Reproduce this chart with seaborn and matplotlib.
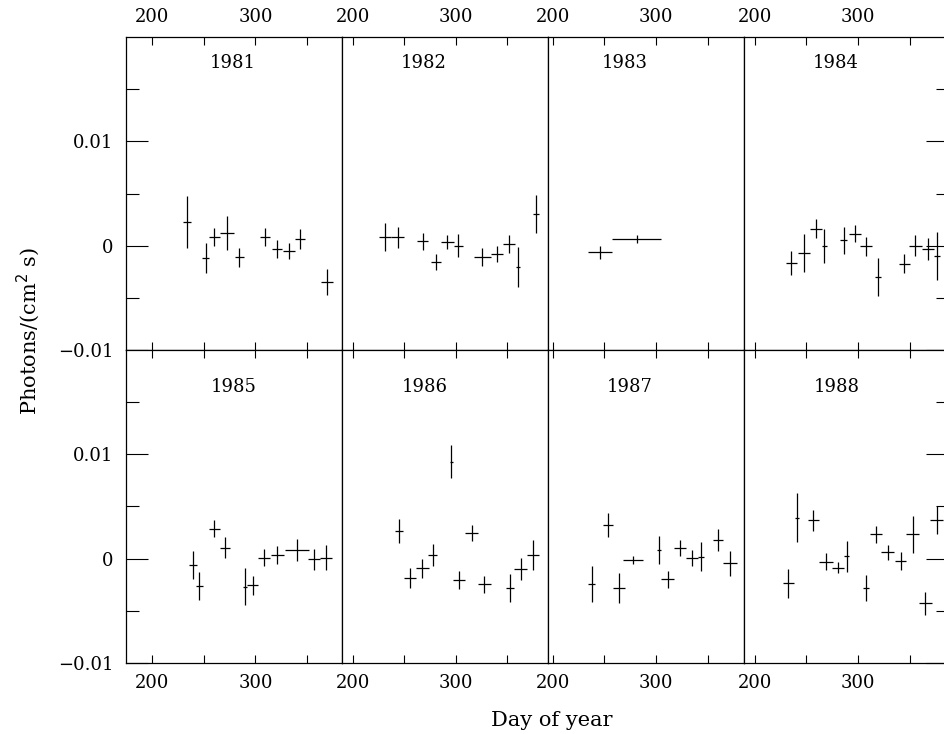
import numpy as np
import pandas as pd
import seaborn as sns
import matplotlib.pyplot as plt
from matplotlib.ticker import FixedLocator, FuncFormatter

years = [1981, 1982, 1983, 1984, 1985, 1986, 1987, 1988]

# each row: (day of year, half width in days, flux, flux error)
pts_1981 = [
    (234.0, 4.0, 0.00223, 0.00250), (251.8, 3.4, -0.00118, 0.00142),
    (260.1, 5.2, 0.00083, 0.00088), (272.2, 6.8, 0.00121, 0.00160),
    (284.4, 4.4, -0.00112, 0.00088), (309.0, 5.0, 0.00083, 0.00088),
    (320.6, 4.8, -0.00032, 0.00085), (332.3, 6.0, -0.00054, 0.00075),
    (343.3, 5.0, 0.00064, 0.00093), (369.2, 5.8, -0.00350, 0.00125),
]
pts_1982 = [
    (231.4, 6.0, 0.00079, 0.00134), (243.7, 6.5, 0.00079, 0.00099),
    (268.0, 5.5, 0.00041, 0.00078), (280.7, 5.0, -0.00156, 0.00077),
    (292.0, 6.3, 0.00032, 0.00067), (302.6, 4.5, 0.00000, 0.00112),
    (326.0, 8.0, -0.00108, 0.00088), (340.0, 6.0, -0.00080, 0.00080),
    (351.9, 6.0, 0.00016, 0.00090), (360.3, 2.0, -0.00204, 0.00196),
    (377.8, 3.0, 0.00303, 0.00179),
]
pts_1983 = [
    (245.7, 11.3, -0.00064, 0.00064), (281.2, 23.8, 0.00067, 0.00040),
]
pts_1984 = [
    (235.5, 5.2, -0.00166, 0.00112), (247.4, 6.0, -0.00070, 0.00180),
    (259.4, 6.0, 0.00163, 0.00089), (267.5, 2.0, -0.00006, 0.00163),
    (286.2, 3.3, 0.00051, 0.00128), (297.5, 5.8, 0.00115, 0.00083),
    (307.8, 5.8, -0.00006, 0.00089), (319.5, 2.8, -0.00300, 0.00179),
    (344.9, 5.0, -0.00172, 0.00091), (355.6, 6.7, 0.00000, 0.00100),
    (367.5, 5.8, -0.00032, 0.00106), (376.6, 3.0, -0.00096, 0.00230),
]
pts_1985 = [
    (239.2, 4.0, -0.00064, 0.00133), (245.6, 3.5, -0.00263, 0.00131),
    (260.1, 5.5, 0.00288, 0.00085), (270.5, 4.5, 0.00105, 0.00099),
    (289.9, 2.0, -0.00268, 0.00179), (297.4, 5.3, -0.00256, 0.00088),
    (308.3, 5.8, 0.00010, 0.00080), (321.3, 6.0, 0.00035, 0.00083),
    (340.0, 11.6, 0.00083, 0.00107), (356.8, 5.6, -0.00007, 0.00104),
    (368.5, 6.0, 0.00010, 0.00120),
]
pts_1986 = [
    (245.2, 3.7, 0.00265, 0.00112), (255.6, 6.0, -0.00182, 0.00096),
    (267.8, 6.0, -0.00093, 0.00088), (277.6, 4.0, 0.00035, 0.00104),
    (296.0, 1.7, 0.00930, 0.00155), (303.5, 6.0, -0.00205, 0.00086),
    (315.5, 6.5, 0.00243, 0.00075), (327.8, 6.2, -0.00246, 0.00080),
    (353.1, 3.8, -0.00278, 0.00133), (363.5, 6.3, -0.00096, 0.00107),
    (374.8, 5.8, 0.00035, 0.00140),
]
pts_1987 = [
    (237.7, 3.3, -0.00246, 0.00173), (253.1, 4.7, 0.00323, 0.00117),
    (263.8, 6.0, -0.00278, 0.00144), (278.0, 9.7, -0.00013, 0.00040),
    (302.7, 2.0, 0.00083, 0.00133), (311.1, 6.3, -0.00198, 0.00080),
    (323.0, 6.0, 0.00105, 0.00077), (334.9, 5.8, 0.00010, 0.00077),
    (343.3, 3.0, 0.00019, 0.00140), (360.0, 5.0, 0.00178, 0.00107),
    (371.3, 6.3, -0.00045, 0.00120),
]
pts_1988 = [
    (232.5, 5.5, -0.00237, 0.00136), (240.7, 1.7, 0.00393, 0.00233),
    (256.7, 5.3, 0.00367, 0.00104), (269.0, 6.7, -0.00029, 0.00080),
    (280.9, 5.7, -0.00086, 0.00056), (289.0, 2.7, 0.00025, 0.00149),
    (307.7, 3.3, -0.00278, 0.00123), (317.1, 5.8, 0.00233, 0.00083),
    (328.7, 6.2, 0.00063, 0.00072), (341.3, 5.5, -0.00023, 0.00083),
    (353.0, 6.2, 0.00233, 0.00180), (365.2, 6.2, -0.00429, 0.00107),
    (376.2, 6.3, 0.00367, 0.00134),
]

all_pts = [pts_1981, pts_1982, pts_1983, pts_1984,
           pts_1985, pts_1986, pts_1987, pts_1988]

frames = []
for yr, pts in zip(years, all_pts):
    d = pd.DataFrame(pts, columns=["day", "dday", "flux", "dflux"])
    d["year"] = yr
    frames.append(d)
df = pd.concat(frames, ignore_index=True)

# x range of each column of panels
col_xlims = [(174.5, 384.0), (189.6, 389.8), (195.5, 384.8), (189.6, 387.1)]
# where the year label sits (axes fraction)
label_x = [0.493, 0.398, 0.391, 0.450, 0.50, 0.40, 0.418, 0.456]
label_y = [0.917, 0.882]


def draw_cross(data, color=None, **kws):
    ax = plt.gca()
    ax.errorbar(data["day"], data["flux"], xerr=data["dday"], yerr=data["dflux"],
                fmt="none", ecolor="black", elinewidth=0.9, capsize=0)


sns.set_theme(style="ticks")
plt.rcParams["font.family"] = ["DejaVu Serif"]
plt.rcParams["axes.linewidth"] = 0.9

g = sns.FacetGrid(df, col="year", col_wrap=4, sharex=False, sharey=True,
                  despine=False, height=3, aspect=0.75)
g.map_dataframe(draw_cross)
g.set_titles("")
fig = g.figure
fig.set_size_inches(9.45, 7.34)

W, H = 945.0, 734.0
col_px = [126, 342, 548, 744, 948]
row_px = [(37, 350), (350, 663)]


def yfmt(v, _):
    if abs(v) < 1e-12:
        return "0"
    return f"{v:g}".replace("-", "\u2212")


for i, ax in enumerate(g.axes.flat):
    r, c = divmod(i, 4)
    x0, x1 = col_px[c], col_px[c + 1]
    top, bot = row_px[r]
    ax.set_position([x0 / W, 1 - bot / H, (x1 - x0) / W, (bot - top) / H])
    ax.set_xlim(*col_xlims[c])
    ax.set_ylim(-0.01, 0.02)
    ax.set_xlabel("")
    ax.set_ylabel("")
    for sp in ax.spines.values():
        sp.set_color("black")
        sp.set_linewidth(0.9)

    ax.xaxis.set_major_locator(FixedLocator([200, 300]))
    ax.xaxis.set_minor_locator(FixedLocator([250, 350]))
    ax.yaxis.set_major_locator(FixedLocator([-0.01, 0, 0.01]))
    ax.yaxis.set_minor_locator(FixedLocator([-0.005, 0.005, 0.015]))
    ax.yaxis.set_major_formatter(FuncFormatter(yfmt))

    ax.tick_params(axis="x", which="both", direction="in", top=True, bottom=True,
                   length=6, width=0.8, color="black",
                   labeltop=(r == 0), labelbottom=(r == 1),
                   labelsize=13, labelcolor="black", pad=8)
    ax.tick_params(axis="y", which="both", direction="in",
                   left=(c == 0), right=(c == 3),
                   labelleft=(c == 0), labelright=False,
                   width=0.8, color="black", labelsize=13, labelcolor="black", pad=9)
    ax.tick_params(axis="y", which="major", length=16)
    ax.tick_params(axis="y", which="minor", length=9)

    ax.text(label_x[i], label_y[r], str(years[i]), transform=ax.transAxes,
            ha="center", va="center", fontsize=13, color="black")

fig.text(551.5 / W, 1 - 721 / H, "Day of year", ha="center", va="center",
         fontsize=15, color="black")
fig.text(28 / W, 1 - 331 / H, "Photons/(cm$^2$ s)", rotation=90,
         ha="center", va="center", fontsize=15, color="black")

fig.savefig("out.png", dpi=100, facecolor="white")
